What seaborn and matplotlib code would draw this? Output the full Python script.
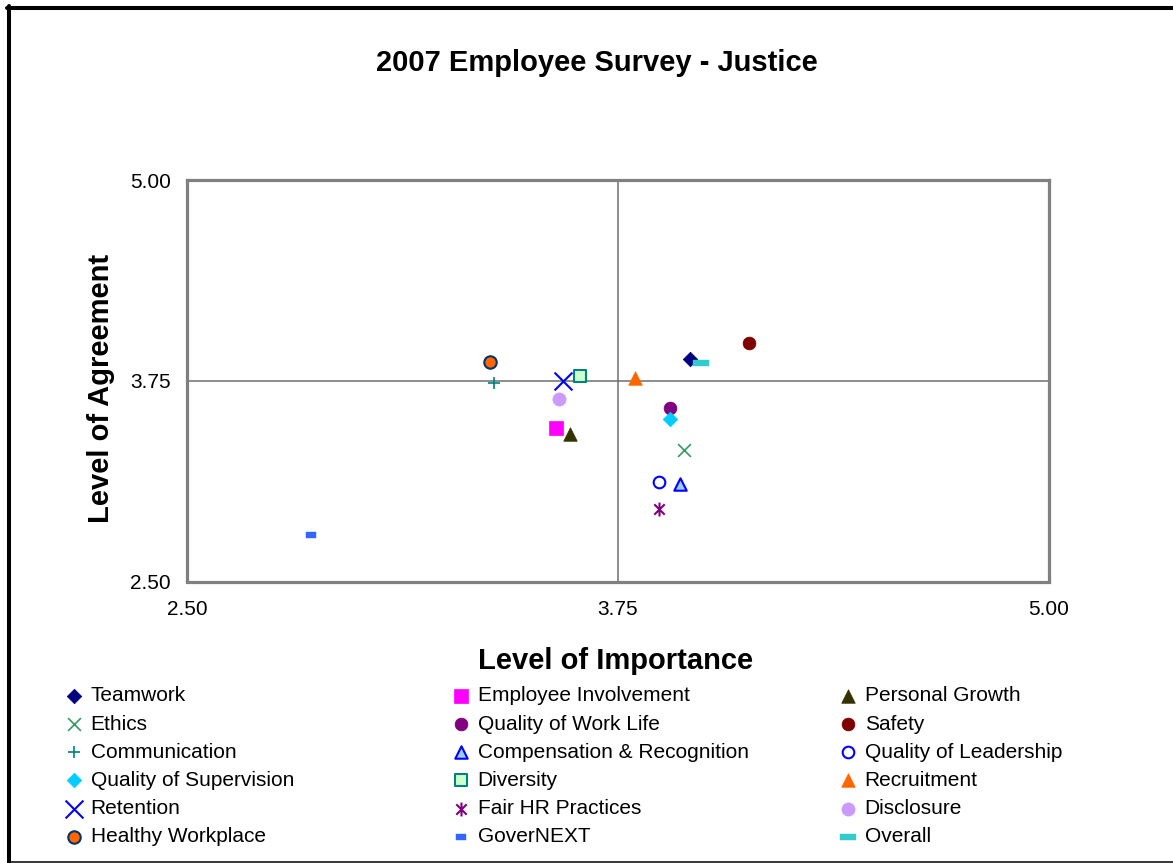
import matplotlib
matplotlib.use("Agg")
import matplotlib.pyplot as plt
from matplotlib.path import Path
from matplotlib.lines import Line2D
import seaborn as sns

# Survey dimensions, in legend (row-major) order
categories = ["Teamwork", "Employee Involvement", "Personal Growth",
              "Ethics", "Quality of Work Life", "Safety",
              "Communication", "Compensation & Recognition", "Quality of Leadership",
              "Quality of Supervision", "Diversity", "Recruitment",
              "Retention", "Fair HR Practices", "Disclosure",
              "Healthy Workplace", "GoverNEXT", "Overall"]
importance = [3.96, 3.57, 3.61,
              3.94, 3.90, 4.13,
              3.39, 3.93, 3.87,
              3.90, 3.64, 3.80,
              3.59, 3.87, 3.58,
              3.38, 2.86, 3.99]
agreement = [3.89, 3.46, 3.42,
             3.32, 3.58, 3.99,
             3.74, 3.11, 3.12,
             3.51, 3.78, 3.77,
             3.75, 2.95, 3.64,
             3.87, 2.79, 3.86]
axis_ticks = [2.50, 3.75, 5.00]
midpoint = 3.75


def bar_marker(half_height):
    return Path([(-1, -half_height), (1, -half_height), (1, half_height),
                 (-1, half_height), (-1, -half_height)],
                [Path.MOVETO, Path.LINETO, Path.LINETO, Path.LINETO, Path.CLOSEPOLY])


asterisk = Path([(0, -1), (0, 1), (-0.75, -0.75), (0.75, 0.75), (-0.75, 0.75), (0.75, -0.75)],
                [Path.MOVETO, Path.LINETO] * 3)

# marker, size (pt^2), face colour, edge colour, edge width
styles = {
    "Teamwork": ("D", 55, "#000080", "#000080", 0.5),
    "Employee Involvement": ("s", 90, "#FF00FF", "#FF00FF", 0.5),
    "Personal Growth": ("^", 95, "#333300", "#333300", 0.5),
    "Ethics": ("x", 85, "#339966", None, 1.2),
    "Quality of Work Life": ("o", 85, "#800080", "#800080", 0.5),
    "Safety": ("o", 85, "#800000", "#800000", 0.5),
    "Communication": ("+", 85, "#008080", None, 1.2),
    "Compensation & Recognition": ("^", 80, "#99CCFF", "#0000FF", 1.5),
    "Quality of Leadership": ("o", 70, "#FFFFFF", "#0000FF", 1.5),
    "Quality of Supervision": ("D", 55, "#00CCFF", "#00CCFF", 0.5),
    "Diversity": ("s", 80, "#CCFFCC", "#008080", 1.5),
    "Recruitment": ("^", 95, "#FF6600", "#FF6600", 0.5),
    "Retention": ("x", 165, "#0000FF", None, 1.5),
    "Fair HR Practices": (asterisk, 100, "#800080", "#800080", 1.5),
    "Disclosure": ("o", 90, "#CC99FF", "#CC99FF", 0.5),
    "Healthy Workplace": ("o", 80, "#FF6600", "#003366", 1.5),
    "GoverNEXT": (bar_marker(0.6), 52, "#3366FF", "#3366FF", 0.3),
    "Overall": (bar_marker(0.36), 130, "#33CCCC", "#33CCCC", 0.3),
}

sns.set_style("white")
plt.rcParams["font.family"] = ["Liberation Sans", "DejaVu Sans"]
plt.rcParams["text.color"] = "black"
plt.rcParams["axes.labelcolor"] = "black"

W, H = 1173, 863
fig = plt.figure(figsize=(W / 100, H / 100), dpi=100)
ax = fig.add_axes([187 / W, 1 - 581.5 / H, 862 / W, 401 / H])

# quadrant dividers
ax.axvline(midpoint, color="#6f6f6f", lw=1.1, zorder=1)
ax.axhline(midpoint, color="#6f6f6f", lw=1.1, zorder=1)

for name, xv, yv in zip(categories, importance, agreement):
    marker, size, face, edge, lw = styles[name]
    kws = dict(marker=marker, s=size, color=face, linewidth=lw)
    if edge is not None:
        kws["edgecolor"] = edge
    sns.scatterplot(x=[xv], y=[yv], ax=ax, label=name, legend=False, zorder=3, **kws)

ax.set_xlim(axis_ticks[0], axis_ticks[-1])
ax.set_ylim(axis_ticks[0], axis_ticks[-1])
ax.set_xticks(axis_ticks)
ax.set_yticks(axis_ticks)
ax.set_xticklabels([f"{t:.2f}" for t in axis_ticks])
ax.set_yticklabels([f"{t:.2f}" for t in axis_ticks])
ax.tick_params(axis="both", length=0, labelsize=15, colors="black")
ax.tick_params(axis="x", pad=13)
ax.tick_params(axis="y", pad=11.5)
ax.grid(False)
for sp in ax.spines.values():
    sp.set_visible(True)
    sp.set_color("#808080")
    sp.set_linewidth(2.3)

ax.set_title("2007 Employee Survey - Justice", fontsize=21, fontweight="bold", color="black",
             x=(597 - 187) / 862, y=(581.5 - 63) / 401, va="center", pad=0)
ax.set_xlabel("Level of Importance", fontsize=21, fontweight="bold")
ax.xaxis.set_label_coords((616 - 187) / 862, (581.5 - 661) / 401)
ax.xaxis.label.set_va("center")
ax.set_ylabel("Level of Agreement", fontsize=21, fontweight="bold")
ax.yaxis.set_label_coords((101 - 187) / 862, (581.5 - 388) / 401)
ax.yaxis.label.set_va("center")

# three-column legend below the plot
handles, labels = ax.get_legend_handles_labels()
lookup = dict(zip(labels, handles))
fs_px = 15 * 100 / 72
hl = 0.8
for col, marker_x in enumerate([74, 461, 848]):
    names = categories[col::3]
    fig.legend([lookup[n] for n in names], names, loc="upper left",
               bbox_to_anchor=((marker_x - hl * fs_px / 2) / W, 1 - 686.4 / H),
               frameon=False, fontsize=15, handlelength=hl, handletextpad=0.4,
               labelspacing=0.44, borderpad=0, borderaxespad=0, markerscale=1,
               labelcolor="black")

# outer chart border
fig.add_artist(Line2D([9.3 / W, 9.3 / W], [0, 1 - 6 / H], color="black", lw=2.9,
                      transform=fig.transFigure))
fig.add_artist(Line2D([7.3 / W, 1], [1 - 8 / H, 1 - 8 / H], color="black", lw=2.9,
                      transform=fig.transFigure))
fig.add_artist(Line2D([9.3 / W, 1], [1 - 861.8 / H, 1 - 861.8 / H], color="black", lw=1.1,
                      transform=fig.transFigure))

fig.savefig("out.png", dpi=100, facecolor="white")
